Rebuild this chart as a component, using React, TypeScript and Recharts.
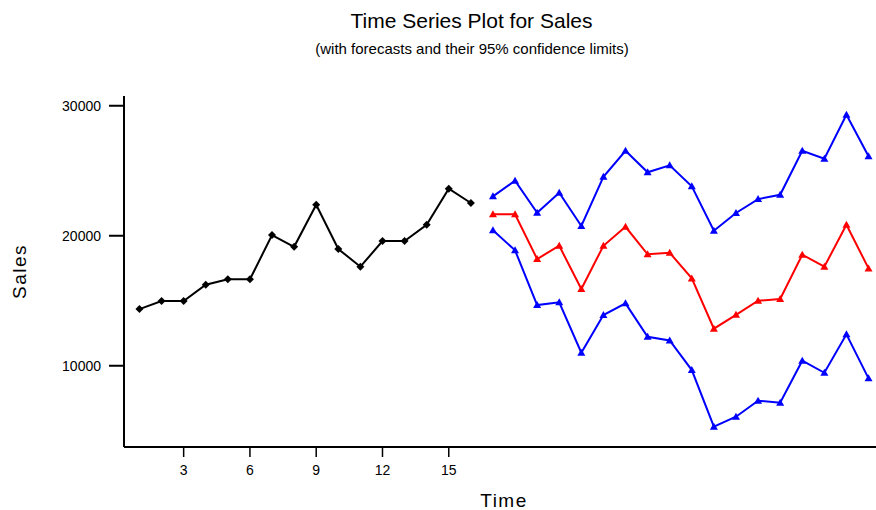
import React from 'react';
import { LineChart, Line, XAxis, YAxis } from 'recharts';

// Observed series (time 1..16)
const salesTimes = [1, 2, 3, 4, 5, 6, 7, 8, 9, 10, 11, 12, 13, 14, 15, 16];
const sales = [14360, 14980, 14980, 16230, 16650, 16650, 20050, 19150, 22390, 18980, 17620, 19590, 19590, 20850, 23620, 22520];

// Forecasts (time 17..34) with 95% limits
const forecastTimes = [17, 18, 19, 20, 21, 22, 23, 24, 25, 26, 27, 28, 29, 30, 31, 32, 33, 34];
const forecast = [21650, 21650, 18210, 19230, 15900, 19230, 20690, 18570, 18690, 16720, 12850, 13920, 15000, 15130, 18540, 17620, 20850, 17490];
const upper = [23030, 24230, 21770, 23310, 20750, 24540, 26540, 24880, 25420, 23800, 20390, 21750, 22820, 23150, 26540, 25920, 29310, 26110];
const lower = [20420, 18880, 14670, 14880, 11000, 13900, 14800, 12230, 11950, 9670, 5310, 6080, 7310, 7150, 10390, 9460, 12420, 9030];

const xTicks = [3, 6, 9, 12, 15];
const yTicks = [10000, 20000, 30000];

const titleText = 'Time Series Plot for Sales';
const subtitleText = '(with forecasts and their 95% confidence limits)';

type Row = { t: number; sales?: number | null; forecast?: number | null; upper?: number | null; lower?: number | null };

const data: Row[] = [
  ...salesTimes.map((t, i) => ({ t, sales: sales[i], forecast: null, upper: null, lower: null })),
  ...forecastTimes.map((t, i) => ({ t, sales: null, forecast: forecast[i], upper: upper[i], lower: lower[i] })),
];

const FONT = '"Liberation Sans", Arial, sans-serif';

const diamondDot = (props: any) => {
  const { cx, cy, index, value } = props;
  const key = `dia-${index}`;
  if (cx == null || cy == null || value == null || Number.isNaN(cy)) return <g key={key} />;
  const r = 4;
  return <path key={key} d={`M${cx},${cy - r}L${cx + r},${cy}L${cx},${cy + r}L${cx - r},${cy}Z`} fill="#000" />;
};

const triangleDot = (color: string, name: string) => (props: any) => {
  const { cx, cy, index, value } = props;
  const key = `${name}-${index}`;
  if (cx == null || cy == null || value == null || Number.isNaN(cy)) return <g key={key} />;
  return (
    <path key={key} d={`M${cx},${cy - 4}L${cx + 4},${cy + 3}L${cx - 4},${cy + 3}Z`} fill={color} />
  );
};

export default function App() {
  return (
    <div style={{ position: 'absolute', left: 0, top: 0, width: 876, height: 510, overflow: 'hidden', background: '#fff', fontFamily: FONT }}>
      <LineChart
        width={900}
        height={510}
        data={data}
        margin={{ top: 96, right: 16, bottom: 0, left: 0 }}
      >
        <XAxis
          dataKey="t"
          type="number"
          domain={[0.3, 34.7]}
          ticks={xTicks}
          allowDataOverflow
          height={63}
          tickSize={10}
          tickMargin={8}
          axisLine={{ stroke: '#000', strokeWidth: 2 }}
          tickLine={{ stroke: '#000', strokeWidth: 1.5 }}
          tick={{ fill: '#000', fontSize: 14, fontFamily: FONT }}
          label={{ value: 'Time', position: 'insideBottom', offset: 3, style: { fontSize: 19, letterSpacing: 1.5, fill: '#000', fontFamily: FONT } }}
        />
        <XAxis
          xAxisId="top"
          orientation="top"
          type="number"
          domain={[0.3, 34.7]}
          allowDataOverflow
          height={0}
          tick={false}
          tickLine={false}
          axisLine={{ stroke: '#000', strokeWidth: 2 }}
        />
        <YAxis
          type="number"
          domain={[3750, 30750]}
          ticks={yTicks}
          allowDataOverflow
          width={124}
          tickSize={15}
          tickMargin={8}
          axisLine={{ stroke: '#000', strokeWidth: 2 }}
          tickLine={{ stroke: '#000', strokeWidth: 2 }}
          tick={{ fill: '#000', fontSize: 14, fontFamily: FONT }}
          label={{ value: 'Sales', angle: -90, position: 'insideLeft', offset: 19, style: { textAnchor: 'middle', fontSize: 19, letterSpacing: 1.5, fill: '#000', fontFamily: FONT } }}
        />
        <Line dataKey="sales" stroke="#000" strokeWidth={2} dot={diamondDot} activeDot={false} isAnimationActive={false} connectNulls={false} />
        <Line dataKey="upper" stroke="#0000ff" strokeWidth={2} dot={triangleDot('#0000ff', 'up')} activeDot={false} isAnimationActive={false} connectNulls={false} />
        <Line dataKey="forecast" stroke="#ff0000" strokeWidth={2} dot={triangleDot('#ff0000', 'fc')} activeDot={false} isAnimationActive={false} connectNulls={false} />
        <Line dataKey="lower" stroke="#0000ff" strokeWidth={2} dot={triangleDot('#0000ff', 'lo')} activeDot={false} isAnimationActive={false} connectNulls={false} />
      </LineChart>
      <svg width={876} height={70} style={{ position: 'absolute', left: 0, top: 0, pointerEvents: 'none' }}>
        <text x={471.5} y={28} textAnchor="middle" fontSize={21} fontFamily={FONT} fill="#000">{titleText}</text>
        <text x={472} y={54} textAnchor="middle" fontSize={15} fontFamily={FONT} fill="#000">{subtitleText}</text>
      </svg>
    </div>
  );
}
